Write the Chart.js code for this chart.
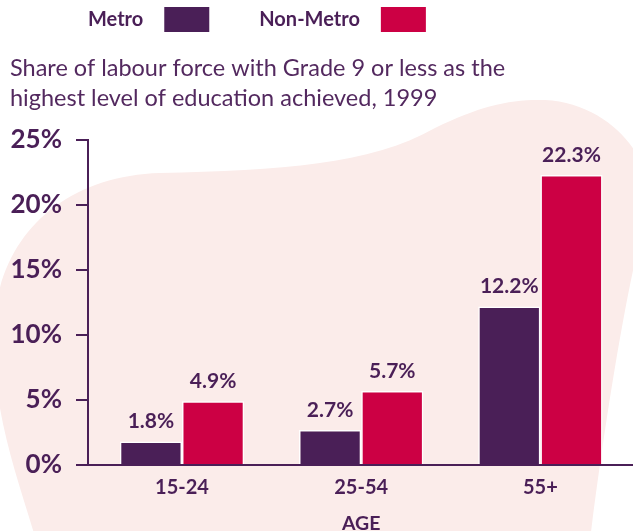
<!DOCTYPE html>
<html>
<head>
<meta charset="utf-8">
<script src="https://cdn.jsdelivr.net/npm/chart.js@4/dist/chart.umd.min.js"></script>
<style>
html,body{margin:0;padding:0;background:#fff;}
#wrap{position:relative;width:633px;height:531px;}
</style>
</head>
<body>
<div id="wrap"><canvas id="c" width="633" height="531"></canvas></div>
<script>
const categories = ['15-24', '25-54', '55+'];
const seriesNames = ['Metro', 'Non-Metro'];
const metroValues = [1.8, 2.7, 12.2];
const nonMetroValues = [4.9, 5.7, 22.3];
const yTickValues = [0, 5, 10, 15, 20, 25];
const titleLines = ['Share of labour force with Grade 9 or less as the', 'highest level of education achieved, 1999'];
const axisTitle = 'AGE';

const PURPLE = '#4a1f57';
const RED = '#cc0044';
const PINK = '#fbecea';
const TEXT = '#4a1f57';
const FONT = 'Lato, "Open Sans", sans-serif';

const blobPlugin = {
  id: 'blob',
  beforeDraw(chart) {
    const ctx = chart.ctx;
    ctx.save();
    ctx.fillStyle = '#ffffff';
    ctx.fillRect(0, 0, chart.width, chart.height);
    ctx.beginPath();
    ctx.moveTo(36, 540);
    ctx.bezierCurveTo(15, 470, -8, 410, -6, 330);
    ctx.bezierCurveTo(-4, 240, 60, 176, 160, 173);
    ctx.bezierCurveTo(280, 170, 370, 165, 435, 128);
    ctx.bezierCurveTo(480, 106, 510, 99, 545, 100);
    ctx.bezierCurveTo(590, 102, 625, 130, 640, 160);
    ctx.lineTo(640, 240);
    ctx.bezierCurveTo(625, 300, 605, 420, 590, 540);
    ctx.closePath();
    ctx.fillStyle = PINK;
    ctx.fill();
    ctx.restore();
  }
};

const axesPlugin = {
  id: 'axesLines',
  afterDatasetsDraw(chart) {
    const ctx = chart.ctx;
    const y = chart.scales.y;
    const axisX = 88;
    const base = y.getPixelForValue(0);
    ctx.save();
    ctx.strokeStyle = PURPLE;
    ctx.lineWidth = 2;
    ctx.beginPath();
    ctx.moveTo(axisX, y.getPixelForValue(25) - 1);
    ctx.lineTo(axisX, base);
    yTickValues.forEach(v => {
      const py = y.getPixelForValue(v);
      ctx.moveTo(76, py);
      ctx.lineTo(axisX, py);
    });
    ctx.moveTo(76, base);
    ctx.lineTo(chart.width, base);
    ctx.stroke();
    ctx.restore();
  }
};

const labelPlugin = {
  id: 'valueLabels',
  afterDatasetsDraw(chart) {
    const ctx = chart.ctx;
    ctx.save();
    ctx.fillStyle = TEXT;
    ctx.font = 'bold 21px ' + FONT;
    ctx.textAlign = 'center';
    ctx.textBaseline = 'middle';
    chart.data.datasets.forEach((ds, di) => {
      const meta = chart.getDatasetMeta(di);
      meta.data.forEach((el, i) => {
        ctx.fillText(ds.data[i].toFixed(1) + '%', el.x, el.y - 20);
      });
    });
    ctx.restore();
  }
};

const legendPlugin = {
  id: 'customLegend',
  afterDraw(chart) {
    const ctx = chart.ctx;
    ctx.save();
    ctx.font = 'bold 20px ' + FONT;
    ctx.textBaseline = 'middle';
    ctx.textAlign = 'left';
    let x = 88;
    chart.data.datasets.forEach(ds => {
      ctx.fillStyle = TEXT;
      ctx.fillText(ds.label, x, 20);
      x += ctx.measureText(ds.label).width + 21;
      ctx.fillStyle = ds.backgroundColor;
      ctx.fillRect(x, 7, 45, 25);
      x += 45 + 50;
    });
    ctx.restore();
  }
};

new Chart(document.getElementById('c'), {
  type: 'bar',
  data: {
    labels: categories,
    datasets: [
      { label: seriesNames[0], data: metroValues, backgroundColor: PURPLE, borderColor: '#ffffff', borderWidth: 1.5 },
      { label: seriesNames[1], data: nonMetroValues, backgroundColor: RED, borderColor: '#ffffff', borderWidth: 1.5 }
    ]
  },
  options: {
    responsive: false,
    animation: false,
    devicePixelRatio: 1,
    layout: { padding: { left: 10, right: 3, top: 0, bottom: 0 } },
    plugins: {
      legend: { display: false },
      tooltip: { enabled: false },
      title: {
        display: true,
        text: titleLines,
        align: 'start',
        color: '#53295f',
        font: { family: FONT, size: 23.5, weight: 'normal', lineHeight: '30px' },
        padding: { top: 53, bottom: 27 }
      }
    },
    scales: {
      x: {
        grid: { display: false, drawTicks: false },
        border: { display: false },
        ticks: { color: TEXT, font: { family: FONT, size: 20, weight: 'bold' }, padding: 10.5 },
        title: { display: true, text: axisTitle, color: TEXT, font: { family: FONT, size: 19.5, weight: 'bold', lineHeight: '14px' }, padding: { top: 0, bottom: 0 } },
        afterFit(s) { s.height = 66; }
      },
      y: {
        min: 0,
        max: 25,
        grid: { display: false, drawTicks: false },
        border: { display: false },
        afterBuildTicks(s) { s.ticks = yTickValues.map(v => ({ value: v })); },
        ticks: { color: TEXT, font: { family: FONT, size: 26, weight: 'bold' }, padding: 30.4, callback: v => v + '%' },
        afterFit(s) { s.width = 82.4; }
      }
    },
    datasets: { bar: { barPercentage: 1.0, categoryPercentage: 0.694 } }
  },
  plugins: [blobPlugin, axesPlugin, labelPlugin, legendPlugin]
});
</script>
</body>
</html>
